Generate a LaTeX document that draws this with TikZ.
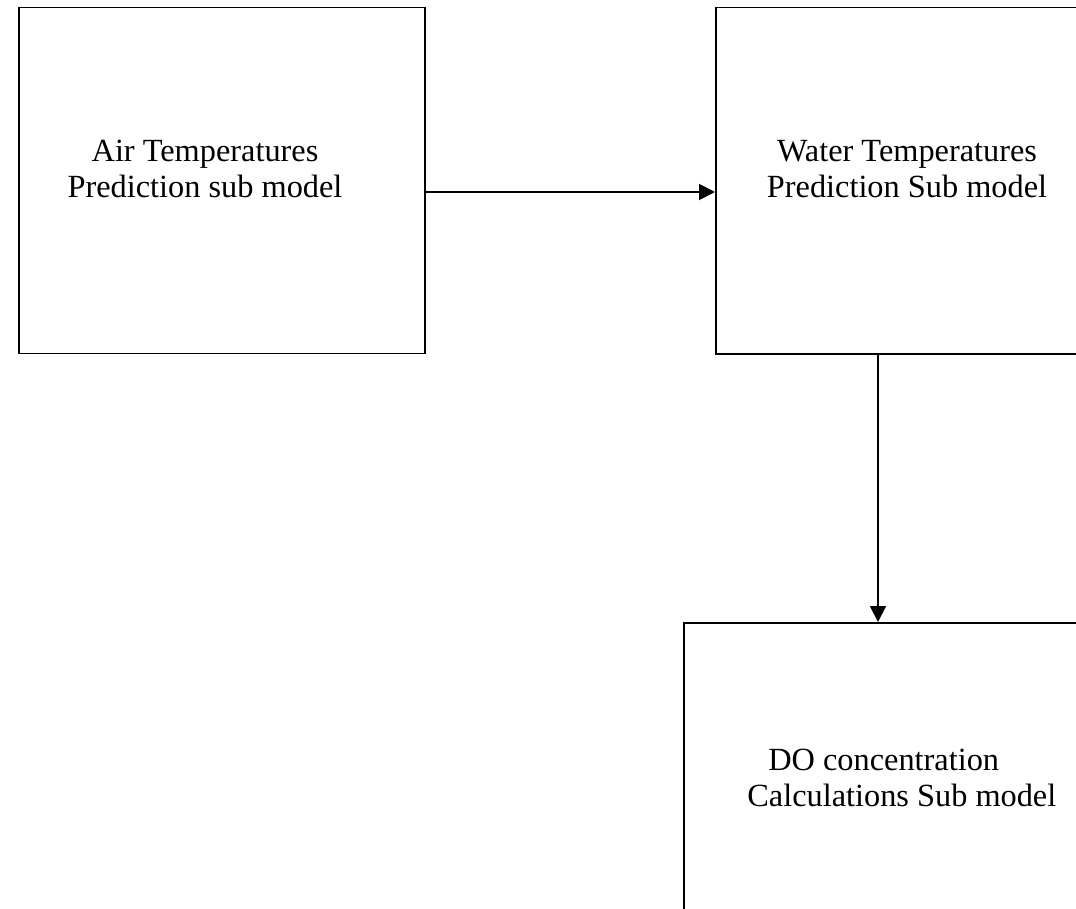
\documentclass[tikz,border=0pt]{standalone}
\usepackage{fontspec}
\setmainfont{Liberation Serif}
\usetikzlibrary{arrows.meta}

\begin{document}
\begin{tikzpicture}[submodel/.style={rectangle, draw, line width=1.1pt, inner sep=0pt},
    boxtext/.style={inner sep=0pt, font=\fontsize{18.4}{20.5}\selectfont},
    flow/.style={line width=1.1pt, -{Triangle[length=0.32cm, width=0.32cm]}}]

% Page frame
\useasboundingbox (0,0) rectangle (21.52,-18.18);
\clip (0,0) rectangle (21.52,-18.18);

% Sub model boxes (the two on the right run past the page)
\node[submodel, anchor=north west, minimum width=8.12cm, minimum height=6.92cm] (air) at (0.36,-0.13) {};
\node[submodel, anchor=north west, minimum width=8.5cm, minimum height=6.93cm] (water) at (14.3,-0.13) {};
\node[submodel, anchor=north west, minimum width=9cm, minimum height=7cm] (do) at (13.66,-12.44) {};

% Box texts
\node[boxtext, align=center] (airtxt) at (4.1,-3.38) {Air Temperatures\\Prediction sub model};
\node[boxtext, align=center] (watertxt) at (18.14,-3.38) {Water Temperatures\\Prediction Sub model};
\node[boxtext, align=left, anchor=west] (dotxt) at (14.94,-15.56) {\hspace{0.42cm}DO concentration\\Calculations Sub model};

% Connections
\coordinate (airout) at (8.48,-3.84);
\coordinate (waterout) at (17.56,-7.06);
\draw[flow] (airout) -- (airout -| water.west);
\draw[flow] (waterout) -- (waterout |- do.north);

\end{tikzpicture}
\end{document}
